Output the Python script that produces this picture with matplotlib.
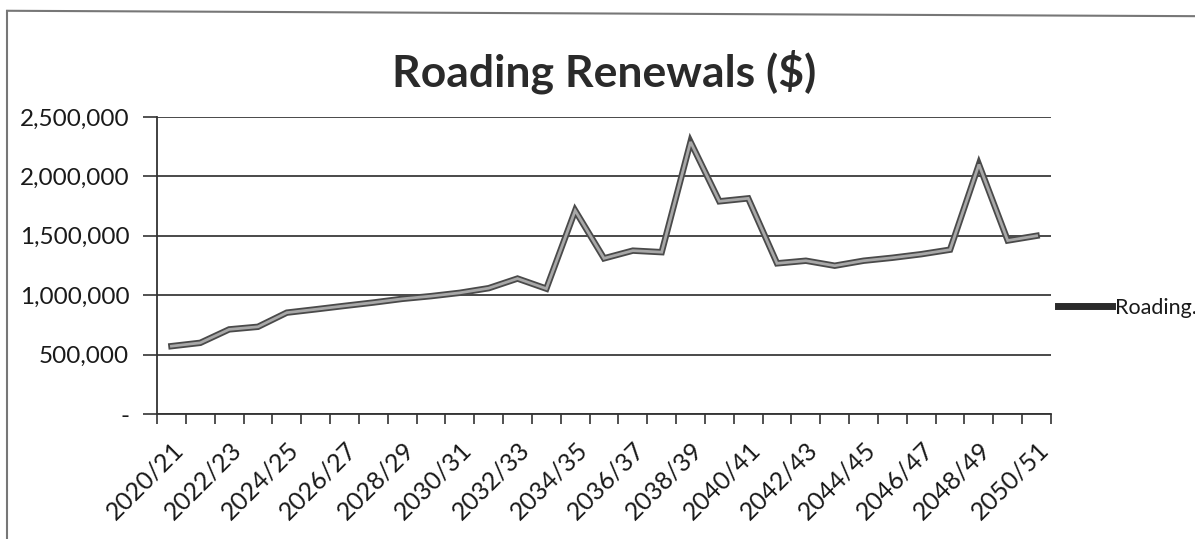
import numpy as np
import matplotlib
matplotlib.use("Agg")
import matplotlib.pyplot as plt
from matplotlib.ticker import FuncFormatter
from matplotlib.lines import Line2D

years = [f"{y}/{(y + 1) % 100:02d}" for y in range(2020, 2051)]
roading = [571000, 599000, 712000, 734000, 853000, 881000, 910000, 938000,
           969000, 992000, 1020000, 1059000, 1140000, 1055000, 1712000,
           1310000, 1375000, 1362000, 2290000, 1790000, 1815000, 1268000,
           1290000, 1248000, 1290000, 1315000, 1345000, 1383000, 2100000,
           1460000, 1500000]
y_ticks = [0, 500000, 1000000, 1500000, 2000000, 2500000]

plt.rcParams['font.family'] = ['Lato', 'DejaVu Sans']

fig = plt.figure(figsize=(11.95, 5.39), dpi=100)
ax = fig.add_axes([0.1314, 0.2319, 0.7481, 0.5511])

x = np.arange(len(years))
# dark outline under a lighter grey core gives the doubled stroke
ax.plot(x, roading, color="#4a4a4a", lw=4.6, solid_joinstyle="miter", zorder=3)
ax.plot(x, roading, color="#a8a8a8", lw=2.0, solid_joinstyle="miter", zorder=4)

ax.set_xlim(-0.5, len(years) - 0.5)
ax.set_ylim(0, 2500000)
ax.set_yticks(y_ticks)
ax.yaxis.set_major_formatter(FuncFormatter(lambda v, p: "-" if v == 0 else f"{v:,.0f}"))
ax.grid(axis="y", color="#3a3a3a", lw=1.3)
ax.set_axisbelow(True)

ax.set_xticks(x[::2])
ax.set_xticklabels(years[::2], rotation=45, ha="right", rotation_mode="anchor")
ax.set_xticks(np.arange(-0.5, len(years), 1), minor=True)
ax.tick_params(axis="x", which="major", length=0, pad=17, labelsize=18, colors="#1a1a1a")
ax.tick_params(axis="x", which="minor", length=7, width=1.2, color="#333333")
ax.tick_params(axis="y", length=10, width=1.2, color="#333333", labelsize=17.5,
               pad=10, labelcolor="#1a1a1a")

for s in ["top", "right"]:
    ax.spines[s].set_visible(False)
for s in ["left", "bottom"]:
    ax.spines[s].set_color("#333333")
    ax.spines[s].set_linewidth(1.3)

ax.set_title("Roading Renewals ($)", fontsize=32, fontweight="bold",
             color="#2a2a2a", pad=22)

handle = Line2D([], [], color="#2a2a2a", lw=5)
ax.legend([handle], ["Roading."], loc="center left", bbox_to_anchor=(1.0075, 0.357),
          frameon=False, fontsize=15.5, handlelength=2.5, handletextpad=0.15,
          borderaxespad=0, borderpad=0, labelcolor="#1a1a1a")

# outer chart border (top and left edges)
fig.add_artist(Line2D([0.006, 1.0], [0.98, 0.97], color="#777777", lw=1.5))
fig.add_artist(Line2D([0.006, 0.006], [0.0, 0.98], color="#777777", lw=1.5))

fig.savefig("out.png", dpi=100)
